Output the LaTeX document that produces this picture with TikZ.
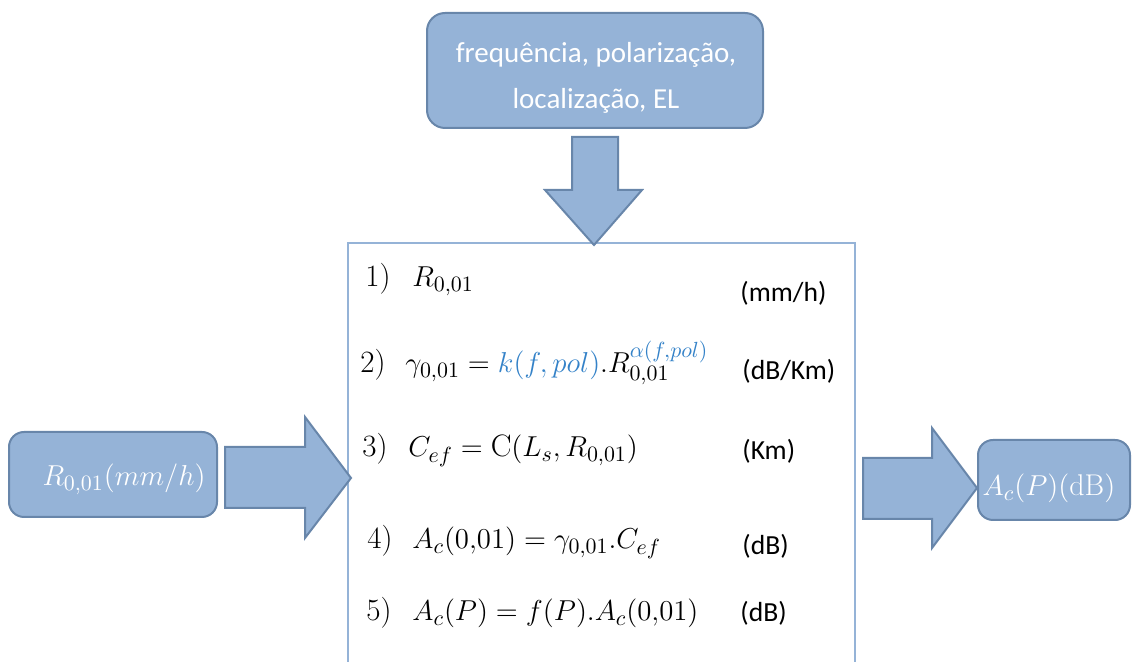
\documentclass[tikz,border=0pt]{standalone}
\usepackage{fontspec}
\newfontfamily\calib{Carlito}
\definecolor{boxfill}{RGB}{149,179,215}
\definecolor{boxline}{RGB}{104,134,170}
\definecolor{mainline}{RGB}{149,179,215}
\definecolor{eqblue}{RGB}{52,130,200}
\begin{document}
\begin{tikzpicture}[x=0.5pt,y=-0.5pt,
  blk/.style={fill=boxfill, draw=boxline, line width=1pt, line join=miter},
  rbox/.style={fill=boxfill, draw=boxline, line width=1pt, rounded corners=9pt, inner sep=0pt},
  eqn/.style={anchor=base west, inner sep=0pt, font=\fontsize{15.5}{18}\selectfont},
  unit/.style={anchor=base west, inner sep=0pt, font=\calib\fontsize{13.8}{16}\selectfont},
  wt/.style={text=white, inner sep=0pt, anchor=base, font=\fontsize{15}{18}\selectfont}]
\useasboundingbox (0,0) rectangle (1132,662);
% main box (bottom cut off)
\draw[draw=mainline, line width=1pt] (348,662) -- (348,243) -- (855,243) -- (855,662);
% top box
\node[rbox, minimum width=168pt, minimum height=57.5pt] (top) at (595,70.5) {};
\node[text=white, align=center, inner sep=0pt, font=\calib\fontsize{14.5}{23}\selectfont] (toptext) at (596,78) {frequência, polarização,\\localização, EL};
% down arrow
\draw[blk] (572,137) -- (618,137) -- (618,190) -- (642,190) -- (594,245) -- (545,190) -- (572,190) -- cycle;
% left box and arrow
\node[rbox, rounded corners=7.5pt, minimum width=104pt, minimum height=42.5pt] (left) at (113,474.5) {};
\node[wt] (lefttext) at (124,486) {$R_{0,01}(mm/h)$};
\draw[blk] (225,447) -- (305,447) -- (305,417) -- (351,478) -- (305,538) -- (305,508) -- (225,508) -- cycle;
% right arrow and box
\draw[blk] (863,458) -- (932,458) -- (932,428) -- (977,488) -- (932,548) -- (932,519) -- (863,519) -- cycle;
\node[rbox, rounded corners=7.5pt, minimum width=76pt, minimum height=40pt] (right) at (1054,480) {};
\node[wt] (righttext) at (1049,496) {$A_c(P)(\mathrm{dB})$};
% equations
\node[eqn] (n1) at (365,287) {1)};
\node[eqn] (e1) at (412,287) {$R_{0{,}01}$};
\node[unit] (u1) at (740,302) {(mm/h)};
\node[eqn] (n2) at (360,373) {2)};
\node[eqn] (e2) at (405,373) {$\gamma_{0{,}01}=\textcolor{eqblue}{k(f,pol)}.R_{0{,}01}^{\textcolor{eqblue}{\alpha(f,pol)}}$};
\node[unit] (u2) at (742,380) {(dB/Km)};
\node[eqn] (n3) at (362,457) {3)};
\node[eqn] (e3) at (408,457) {$C_{ef}=\mathrm{C}(L_s,R_{0{,}01})$};
\node[unit] (u3) at (742,460) {(Km)};
\node[eqn] (n4) at (367,549) {4)};
\node[eqn] (e4) at (412,549) {$A_c(0{,}01)=\gamma_{0{,}01}.C_{ef}$};
\node[unit] (u4) at (742,555) {(dB)};
\node[eqn] (n5) at (366,621) {5)};
\node[eqn] (e5) at (412,621) {$A_c(P)=f(P).A_c(0{,}01)$};
\node[unit] (u5) at (740,622) {(dB)};
\end{tikzpicture}
\end{document}
